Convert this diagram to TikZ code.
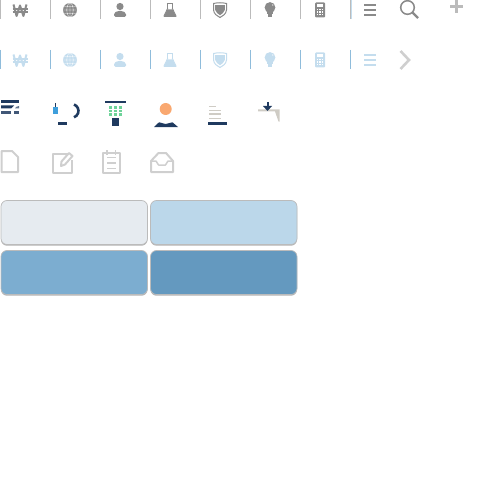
\documentclass[tikz,border=0pt]{standalone}
\usetikzlibrary{positioning, shadows}

\definecolor{sepgray}{HTML}{BBBBBB}
\definecolor{sepblue}{HTML}{8FBCDB}
\definecolor{icongray}{HTML}{8A8A8A}
\definecolor{iconblue}{HTML}{C4DDEE}
\definecolor{navy}{HTML}{1F3A5F}
\definecolor{outlinegray}{HTML}{CFCFCF}
\definecolor{papergray}{HTML}{CFCCC5}
\definecolor{pinblue}{HTML}{3F9FDC}
\definecolor{dotgreen}{HTML}{6FD39A}
\definecolor{headorange}{HTML}{F9A870}
\definecolor{palepanelfill}{HTML}{E6EBF0}
\definecolor{lightpanelfill}{HTML}{BBD7EA}
\definecolor{midpanelfill}{HTML}{7CADD0}
\definecolor{deeppanelfill}{HTML}{6499BF}

\tikzset{
  % --- row icons, drawn round their centre ---
  wonicon/.pic={
    \draw[\iconcol, line width=2pt, line join=round] (-6.5,-5.5) -- (-3.4,6) -- (0,-4.5) -- (3.4,6) -- (6.5,-5.5);
    \draw[\iconcol, line width=1.2pt] (-7.5,-1) -- (7.5,-1) (-7.5,2) -- (7.5,2);
  },
  globeicon/.pic={
    \fill[\iconcol] (0,0) circle (7);
    \draw[white, line width=.3pt] (0,0) ellipse (3.2 and 7) (0,-7) -- (0,7) (-7,0) -- (7,0)
      (-6.2,-3.3) -- (6.2,-3.3) (-6.2,3.3) -- (6.2,3.3);
  },
  personicon/.pic={
    \fill[\iconcol] (0,-3.5) circle (3.6);
    \fill[\iconcol, rounded corners=1.5pt] (-6,7) -- (-6,3) -- (-2.5,1) -- (2.5,1) -- (6,3) -- (6,7) -- cycle;
  },
  flaskicon/.pic={
    \draw[\iconcol, line width=.9pt] (-3.2,-6.5) -- (3.2,-6.5);
    \draw[\iconcol, line width=.9pt] (-2.2,-6.5) -- (-2.2,-2) (2.2,-6.5) -- (2.2,-2);
    \fill[\iconcol] (-2.7,-.5) -- (2.7,-.5) -- (6.5,7) -- (-6.5,7) -- cycle;
    \draw[\iconcol, line width=.9pt] (-2.2,-2) -- (-6,6) (2.2,-2) -- (6,6);
  },
  shieldicon/.pic={
    \draw[\iconcol, line width=1pt, fill=white] (-6.5,-6.5) .. controls (-2,-7.5) and (2,-7.5) .. (6.5,-6.5)
      -- (6.5,0) .. controls (6,4) and (3,6) .. (0,7.5) .. controls (-3,6) and (-6,4) .. (-6.5,0) -- cycle;
    \fill[\iconcol] (-4.8,-4.8) -- (4.8,-4.8) -- (4.8,0) .. controls (4,2.5) and (2,4) .. (0,5.2)
      .. controls (-2,4) and (-4,2.5) .. (-4.8,0) -- cycle;
  },
  bulbicon/.pic={
    \fill[\iconcol] (0,-2.5) circle (5.4);
    \fill[\iconcol] (-2.6,0) rectangle (2.6,4);
    \fill[\iconcol] (-2,4.5) rectangle (2,7.5);
    \fill[white, opacity=.6] (2.7,-5) circle (.9);
  },
  calcicon/.pic={
    \fill[\iconcol, rounded corners=1pt] (-5,-7.5) rectangle (5,7.5);
    \fill[white] (-3.3,-5.5) rectangle (3.3,-3);
    \foreach \dotx in {-2.7,0,2.7}
      \foreach \doty in {-.7,2,4.7}
        \fill[white] (\dotx-.7,\doty-.7) rectangle (\dotx+.7,\doty+.7);
  },
  menuicon/.pic={
    \foreach \liney in {-5,0,5}
      \draw[\iconcol, line width=1.8pt] (-6,\liney) -- (6,\liney);
  },
  tile/.style={draw=sepgray, line width=.7pt, rounded corners=6pt, minimum width=146.5pt, minimum height=44pt,
    inner sep=0pt, outer sep=0pt, drop shadow={shadow xshift=0pt, shadow yshift=-1.2pt, fill=black, opacity=.3}},
  ghost/.style={draw=outlinegray, line width=2pt, line join=round}
}

\begin{document}
\begin{tikzpicture}[x=1pt, y=-1pt]
  \useasboundingbox (0,0) rectangle (500,500);

  % --- first two rows ---
  \foreach \rowy/\sepcol/\iconcol in {0/sepgray/icongray, 50/sepblue/iconblue} {
    \foreach \sepx in {0,50,...,350}
      \draw[\sepcol, line width=1pt] (\sepx+.5,\rowy) -- (\sepx+.5,\rowy+19);
    \pic at (20,\rowy+10) {wonicon};
    \pic at (70,\rowy+10) {globeicon};
    \pic at (120,\rowy+10) {personicon};
    \pic at (170,\rowy+10) {flaskicon};
    \pic at (220,\rowy+10) {shieldicon};
    \pic at (270,\rowy+10) {bulbicon};
    \pic at (320,\rowy+10) {calcicon};
    \pic at (370,\rowy+10) {menuicon};
  }
  \draw[iconblue, line width=.6pt] (351.3,0) -- (351.3,19);

  % --- ends of the rows ---
  \draw[icongray, line width=1.5pt] (407.5,7.5) circle (6.8);
  \draw[icongray, line width=2.4pt] (412.5,12.5) -- (418,18);
  \draw[sepgray, line width=2.6pt] (450,6.5) -- (463,6.5) (456.5,0) -- (456.5,13);
  \draw[outlinegray, line width=2.6pt] (400.5,51) -- (409,60) -- (400.5,69);

  % --- third row ---
  \draw[navy, line width=2.6pt] (1,101.5) -- (19,101.5);
  \fill[navy] (1,105.5) -- (14,105.5) -- (11,108.5) -- (1,108.5) -- cycle;
  \fill[navy!70] (16,107) -- (19,106) -- (19,108.5) -- (15,108.5) -- cycle;
  \fill[navy!85] (1,111.5) -- (10.5,111.5) -- (10.5,114.5) -- (1,114.5) -- cycle;
  \fill[navy!85] (14,111.5) -- (19,111.5) -- (19,114.5) -- (14,114.5) -- cycle;

  \draw[navy, line width=1pt] (55.5,103) -- (55.5,107);
  \fill[pinblue] (53,107.5) rectangle (58,114);
  \draw[navy, line width=2.6pt] (74,104.5) arc (-70:70:6.8);
  \draw[navy, line width=2.6pt] (58,123.5) -- (67,123.5);

  \draw[navy, line width=2.3pt] (105,102) -- (126,102);
  \foreach \dotx in {110.3,115.3,120.3}
    \foreach \doty in {107.3,111,114.7}
      \fill[dotgreen] (\dotx-1.3,\doty-1.3) rectangle (\dotx+1.3,\doty+1.3);
  \fill[navy] (111.8,118) rectangle (119,125.5);

  \fill[headorange] (165.7,109) circle (6);
  \fill[navy] (154,127) -- (159,122.3) -- (165.7,124) -- (172.5,122.3) -- (178,127) -- cycle;

  \draw[papergray, line width=1.5pt] (209,106.7) -- (216,106.7) (209,110.3) -- (221,110.3)
    (209,114) -- (221,114) (209,118.3) -- (221,118.3);
  \draw[navy, line width=3pt] (208,123.8) -- (227,123.8);

  \fill[papergray] (258,109.5) -- (279.5,109.5) -- (279.5,121.5) -- (278.5,121.5) -- (275,111.5) -- (258,111.5) -- cycle;
  \draw[navy, line width=2pt] (267.5,102) -- (267.5,107);
  \fill[navy] (263,106) -- (272,106) -- (267.5,111) -- cycle;

  % --- fourth row ---
  \draw[ghost] (1.5,151) -- (12,151) -- (18,157) -- (18,172) -- (1.5,172) -- cycle;
  \draw[ghost] (68,153.5) -- (52.5,153.5) -- (52.5,172.5) -- (72,172.5) -- (72,160);
  \draw[ghost] (61,166) -- (61.5,161.5) -- (69,153) -- (72.5,156) -- (65,164.5) -- cycle;
  \draw[ghost] (103,153) -- (119.5,153) -- (119.5,172.5) -- (103,172.5) -- cycle;
  \draw[ghost, line width=1.6pt] (107,150) -- (107,155) (115.5,150) -- (115.5,155)
    (107,157.3) -- (115.5,157.3) (107,162.7) -- (115.5,162.7) (107,168.3) -- (115.5,168.3);
  \draw[ghost] (151,161) -- (158.5,153) -- (166,153) -- (173,161) -- (173,172) -- (151,172) -- cycle;
  \draw[ghost, line width=1.5pt] (151,161) -- (156,161) -- (158.5,165) -- (165.5,165) -- (168,161) -- (173,161);

  % --- panels ---
  \node[tile, fill=palepanelfill, anchor=north west] (palepanel) at (1,200.5) {};
  \node[tile, fill=lightpanelfill, right=3pt of palepanel] (lightpanel) {};
  \node[tile, fill=midpanelfill, below=6pt of palepanel] (midpanel) {};
  \node[tile, fill=deeppanelfill, right=3pt of midpanel] (deeppanel) {};
\end{tikzpicture}
\end{document}
